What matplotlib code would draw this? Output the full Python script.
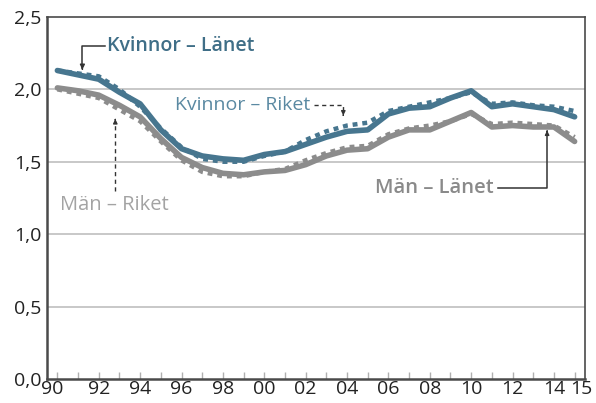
import matplotlib
matplotlib.use("Agg")
import matplotlib.pyplot as plt
import matplotlib.transforms as mtransforms

years = list(range(1990, 2016))
kvinnor_lanet = [2.13, 2.10, 2.07, 1.98, 1.90, 1.72, 1.59, 1.54, 1.52, 1.51, 1.55, 1.57, 1.62, 1.67, 1.71, 1.72,
                 1.83, 1.87, 1.88, 1.94, 1.99, 1.88, 1.90, 1.88, 1.86, 1.81]
kvinnor_riket = [2.13, 2.11, 2.09, 2.00, 1.88, 1.73, 1.60, 1.52, 1.50, 1.50, 1.54, 1.57, 1.65, 1.71, 1.75, 1.77,
                 1.85, 1.88, 1.91, 1.94, 1.98, 1.90, 1.91, 1.89, 1.88, 1.85]
man_lanet = [2.01, 1.99, 1.96, 1.89, 1.81, 1.66, 1.53, 1.46, 1.42, 1.41, 1.43, 1.44, 1.48, 1.54, 1.58, 1.59,
             1.67, 1.72, 1.72, 1.78, 1.84, 1.74, 1.75, 1.74, 1.74, 1.64]
man_riket = [2.00, 1.97, 1.94, 1.86, 1.78, 1.64, 1.51, 1.43, 1.40, 1.40, 1.43, 1.45, 1.51, 1.56, 1.60, 1.61,
             1.69, 1.73, 1.75, 1.78, 1.83, 1.76, 1.77, 1.76, 1.75, 1.67]
y_ticks = [0.0, 0.5, 1.0, 1.5, 2.0, 2.5]
y_labels = ["0,0", "0,5", "1,0", "1,5", "2,0", "2,5"]
x_label_years = [1990, 1992, 1994, 1996, 1998, 2000, 2002, 2004, 2006, 2008, 2010, 2012, 2014, 2015]

plt.rcParams['font.family'] = ['Open Sans', 'DejaVu Sans']

BLUE = '#47768f'
GRAY = '#8c8c8c'

fig = plt.figure(figsize=(5.96, 4.03), dpi=100)
ax = fig.add_axes([0.0789, 0.0596, 0.9026, 0.8984])

dot = (0, (1.1, 1.1))
ax.plot(years, kvinnor_riket, color=BLUE, lw=3.2, linestyle=dot, dash_capstyle='butt', zorder=3)
ax.plot(years, man_riket, color=GRAY, lw=3.2, linestyle=dot, dash_capstyle='butt', zorder=3)
ax.plot(years, kvinnor_lanet, color=BLUE, lw=4.0, solid_capstyle='round', zorder=4)
ax.plot(years, man_lanet, color=GRAY, lw=4.0, solid_capstyle='round', zorder=4)

ax.set_xlim(1989.5, 2015.5)
ax.set_ylim(0, 2.5)
ax.set_yticks(y_ticks)
ax.set_yticklabels(y_labels)
ax.set_xticks(years)
ax.set_xticklabels([f"{y % 100:02d}" if y in x_label_years else "" for y in years])
ax.tick_params(axis='x', direction='in', length=5, width=1, color='#b0b0b0', pad=1,
               labelsize=14, labelcolor='#222222')
ax.tick_params(axis='y', length=0, pad=4, labelsize=14, labelcolor='#222222')
labs = ax.get_xticklabels()
labs[0].set_transform(labs[0].get_transform() + mtransforms.ScaledTranslation(-5/100, 0, fig.dpi_scale_trans))
labs[-1].set_transform(labs[-1].get_transform() + mtransforms.ScaledTranslation(7/100, 0, fig.dpi_scale_trans))

for v in y_ticks[1:-1]:
    ax.axhline(v, color='#c4c4c4', lw=1.3, zorder=1)

for s in ['left', 'bottom']:
    ax.spines[s].set_color('#4a4a4a')
    ax.spines[s].set_linewidth(1.8)
for s in ['top', 'right']:
    ax.spines[s].set_color('#4a4a4a')
    ax.spines[s].set_linewidth(1.2)

# annotations
ax.text(1992.42, 2.297, "Kvinnor – Länet", color='#3f6e87', fontsize=14, fontweight='semibold',
        ha='left', va='center')
ax.plot([1992.3, 1991.21, 1991.21], [2.297, 2.297, 2.15], color='#333333', lw=1.1, zorder=5)
ax.annotate("", xy=(1991.21, 2.117), xytext=(1991.21, 2.16),
            arrowprops=dict(arrowstyle='-|>', color='#333333', lw=1.0, mutation_scale=7), zorder=5)

ax.text(1995.7, 1.89, "Kvinnor – Riket", color='#5a89a2', fontsize=14, ha='left', va='center')
ax.plot([2002.4, 2003.82, 2003.82], [1.89, 1.89, 1.83], color='#333333', lw=1.0,
        linestyle=(0, (3, 2.5)), zorder=5)
ax.annotate("", xy=(2003.82, 1.80), xytext=(2003.82, 1.84),
            arrowprops=dict(arrowstyle='-|>', color='#333333', lw=1.0, mutation_scale=6), zorder=5)

ax.text(1990.14, 1.20, "Män – Riket", color='#a3a3a3', fontsize=14.5, ha='left', va='center')
ax.plot([1992.80, 1992.80], [1.30, 1.78], color='#333333', lw=1.0, linestyle=(0, (3, 2.5)), zorder=5)
ax.annotate("", xy=(1992.80, 1.814), xytext=(1992.80, 1.77),
            arrowprops=dict(arrowstyle='-|>', color='#333333', lw=1.0, mutation_scale=6), zorder=5)

ax.text(2005.36, 1.317, "Män – Länet", color='#8a8a8a', fontsize=14.5, fontweight='semibold',
        ha='left', va='center')
ax.plot([2011.3, 2013.67, 2013.67], [1.317, 1.317, 1.70], color='#333333', lw=1.1, zorder=5)
ax.annotate("", xy=(2013.67, 1.735), xytext=(2013.67, 1.69),
            arrowprops=dict(arrowstyle='-|>', color='#333333', lw=1.0, mutation_scale=6), zorder=5)

fig.savefig("out.png", dpi=100)
